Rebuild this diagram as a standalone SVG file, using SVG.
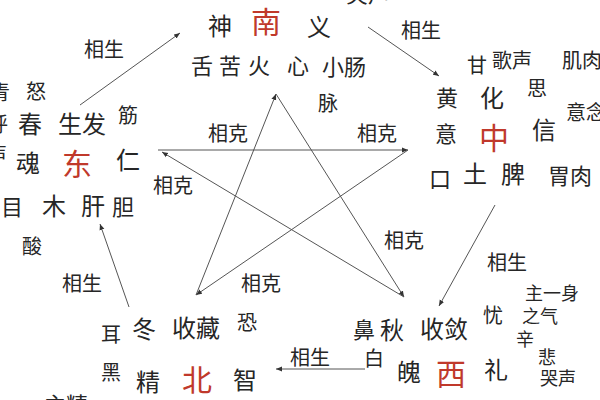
<svg xmlns="http://www.w3.org/2000/svg" width="600" height="400" viewBox="0 0 600 400">
<style>
text{font-family:"Noto Sans CJK SC","Noto Sans",sans-serif;fill:#262626;text-anchor:middle;dominant-baseline:central}
.b{font-size:30px;fill:#c0392b}
.m{font-size:24px}
.s{font-size:20px}
.x{font-size:18px}
.t{font-size:22px}
.lbl{font-size:20px}
.ln{stroke:#555;stroke-width:1;fill:none;marker-end:url(#ah)}
</style>
<defs>
<marker id="ah" markerUnits="userSpaceOnUse" markerWidth="7" markerHeight="6" refX="6" refY="3" orient="auto">
<path d="M0,0.5 L6,3 L0,5.5 z" fill="#333"/>
</marker>
</defs>
<rect width="600" height="400" fill="#fff"/>
<g id="connectors">
<line class="ln" x1="158" y1="150" x2="408" y2="150"/>
<line class="ln" x1="408" y1="150" x2="196" y2="295"/>
<line class="ln" x1="196" y1="295" x2="276" y2="94"/>
<line class="ln" x1="276" y1="94" x2="404" y2="297"/>
<line class="ln" x1="404" y1="297" x2="162" y2="152"/>
<line class="ln" x1="80" y1="105" x2="180" y2="33"/>
<line class="ln" x1="368" y1="27" x2="439" y2="76"/>
<line class="ln" x1="495" y1="205" x2="439" y2="306"/>
<line class="ln" x1="365" y1="369" x2="276" y2="369"/>
<line class="ln" x1="129" y1="307" x2="100" y2="224"/>
</g>
<g id="labels">
<text class="lbl" x="104" y="48">相生</text>
<text class="lbl" x="421" y="29">相生</text>
<text class="lbl" x="507" y="261">相生</text>
<text class="lbl" x="310" y="356">相生</text>
<text class="lbl" x="82" y="282">相生</text>
<text class="lbl" x="228" y="132">相克</text>
<text class="lbl" x="377" y="132">相克</text>
<text class="lbl" x="173" y="184">相克</text>
<text class="lbl" x="404" y="239">相克</text>
<text class="lbl" x="261" y="282">相克</text>
</g>
<g id="east">
<text class="s" x="0" y="91">青</text>
<text class="s" x="-2" y="123">呼</text>
<text class="s" x="-3" y="153">声</text>
<text class="s" x="36" y="90">怒</text>
<text class="m" x="30" y="122">春</text>
<text class="m" x="82" y="122">生发</text>
<text class="s" x="128" y="114">筋</text>
<text class="m" x="28" y="161">魂</text>
<text class="b" x="77" y="162">东</text>
<text class="m" x="128" y="158">仁</text>
<text class="t" x="12" y="205">目</text>
<text class="m" x="54" y="204">木</text>
<text class="m" x="93" y="204">肝</text>
<text class="t" x="123" y="205">胆</text>
<text class="s" x="32" y="245">酸</text>
</g>
<g id="south">
<text class="t" x="368" y="-8">笑声</text>
<text class="m" x="220" y="24">神</text>
<text class="b" x="266" y="20">南</text>
<text class="m" x="319" y="25">义</text>
<text class="t" x="202" y="64">舌</text>
<text class="t" x="230" y="64">苦</text>
<text class="t" x="259" y="64">火</text>
<text class="t" x="298" y="64">心</text>
<text class="t" x="344" y="65">小肠</text>
<text class="s" x="328" y="102">脉</text>
</g>
<g id="center">
<text class="s" x="477" y="64">甘</text>
<text class="s" x="512" y="59">歌声</text>
<text class="s" x="582" y="59">肌肉</text>
<text class="t" x="447" y="96">黄</text>
<text class="m" x="492" y="96">化</text>
<text class="s" x="537" y="87">思</text>
<text class="s" x="586" y="111">意念</text>
<text class="t" x="446" y="132">意</text>
<text class="b" x="494" y="136">中</text>
<text class="m" x="544" y="128">信</text>
<text class="t" x="440" y="177">口</text>
<text class="m" x="475" y="172">土</text>
<text class="m" x="513" y="172">脾</text>
<text class="t" x="570" y="174">胃肉</text>
</g>
<g id="west">
<text class="t" x="364" y="328">鼻</text>
<text class="m" x="392" y="328">秋</text>
<text class="m" x="444" y="327">收敛</text>
<text class="s" x="493" y="314">忧</text>
<text class="x" x="552" y="292">主一身</text>
<text class="x" x="540" y="315">之气</text>
<text class="x" x="525" y="338">辛</text>
<text class="s" x="374" y="357">白</text>
<text class="m" x="409" y="370">魄</text>
<text class="b" x="451" y="372">西</text>
<text class="m" x="496" y="368">礼</text>
<text class="x" x="547" y="356">悲</text>
<text class="x" x="558" y="377">哭声</text>
</g>
<g id="north">
<text class="s" x="111" y="333">耳</text>
<text class="m" x="144" y="327">冬</text>
<text class="m" x="196" y="326">收藏</text>
<text class="s" x="247" y="321">恐</text>
<text class="s" x="111" y="371">黑</text>
<text class="m" x="148" y="380">精</text>
<text class="b" x="197" y="378">北</text>
<text class="m" x="245" y="378">智</text>
<text class="t" x="66" y="403">主精</text>
</g>
</svg>
